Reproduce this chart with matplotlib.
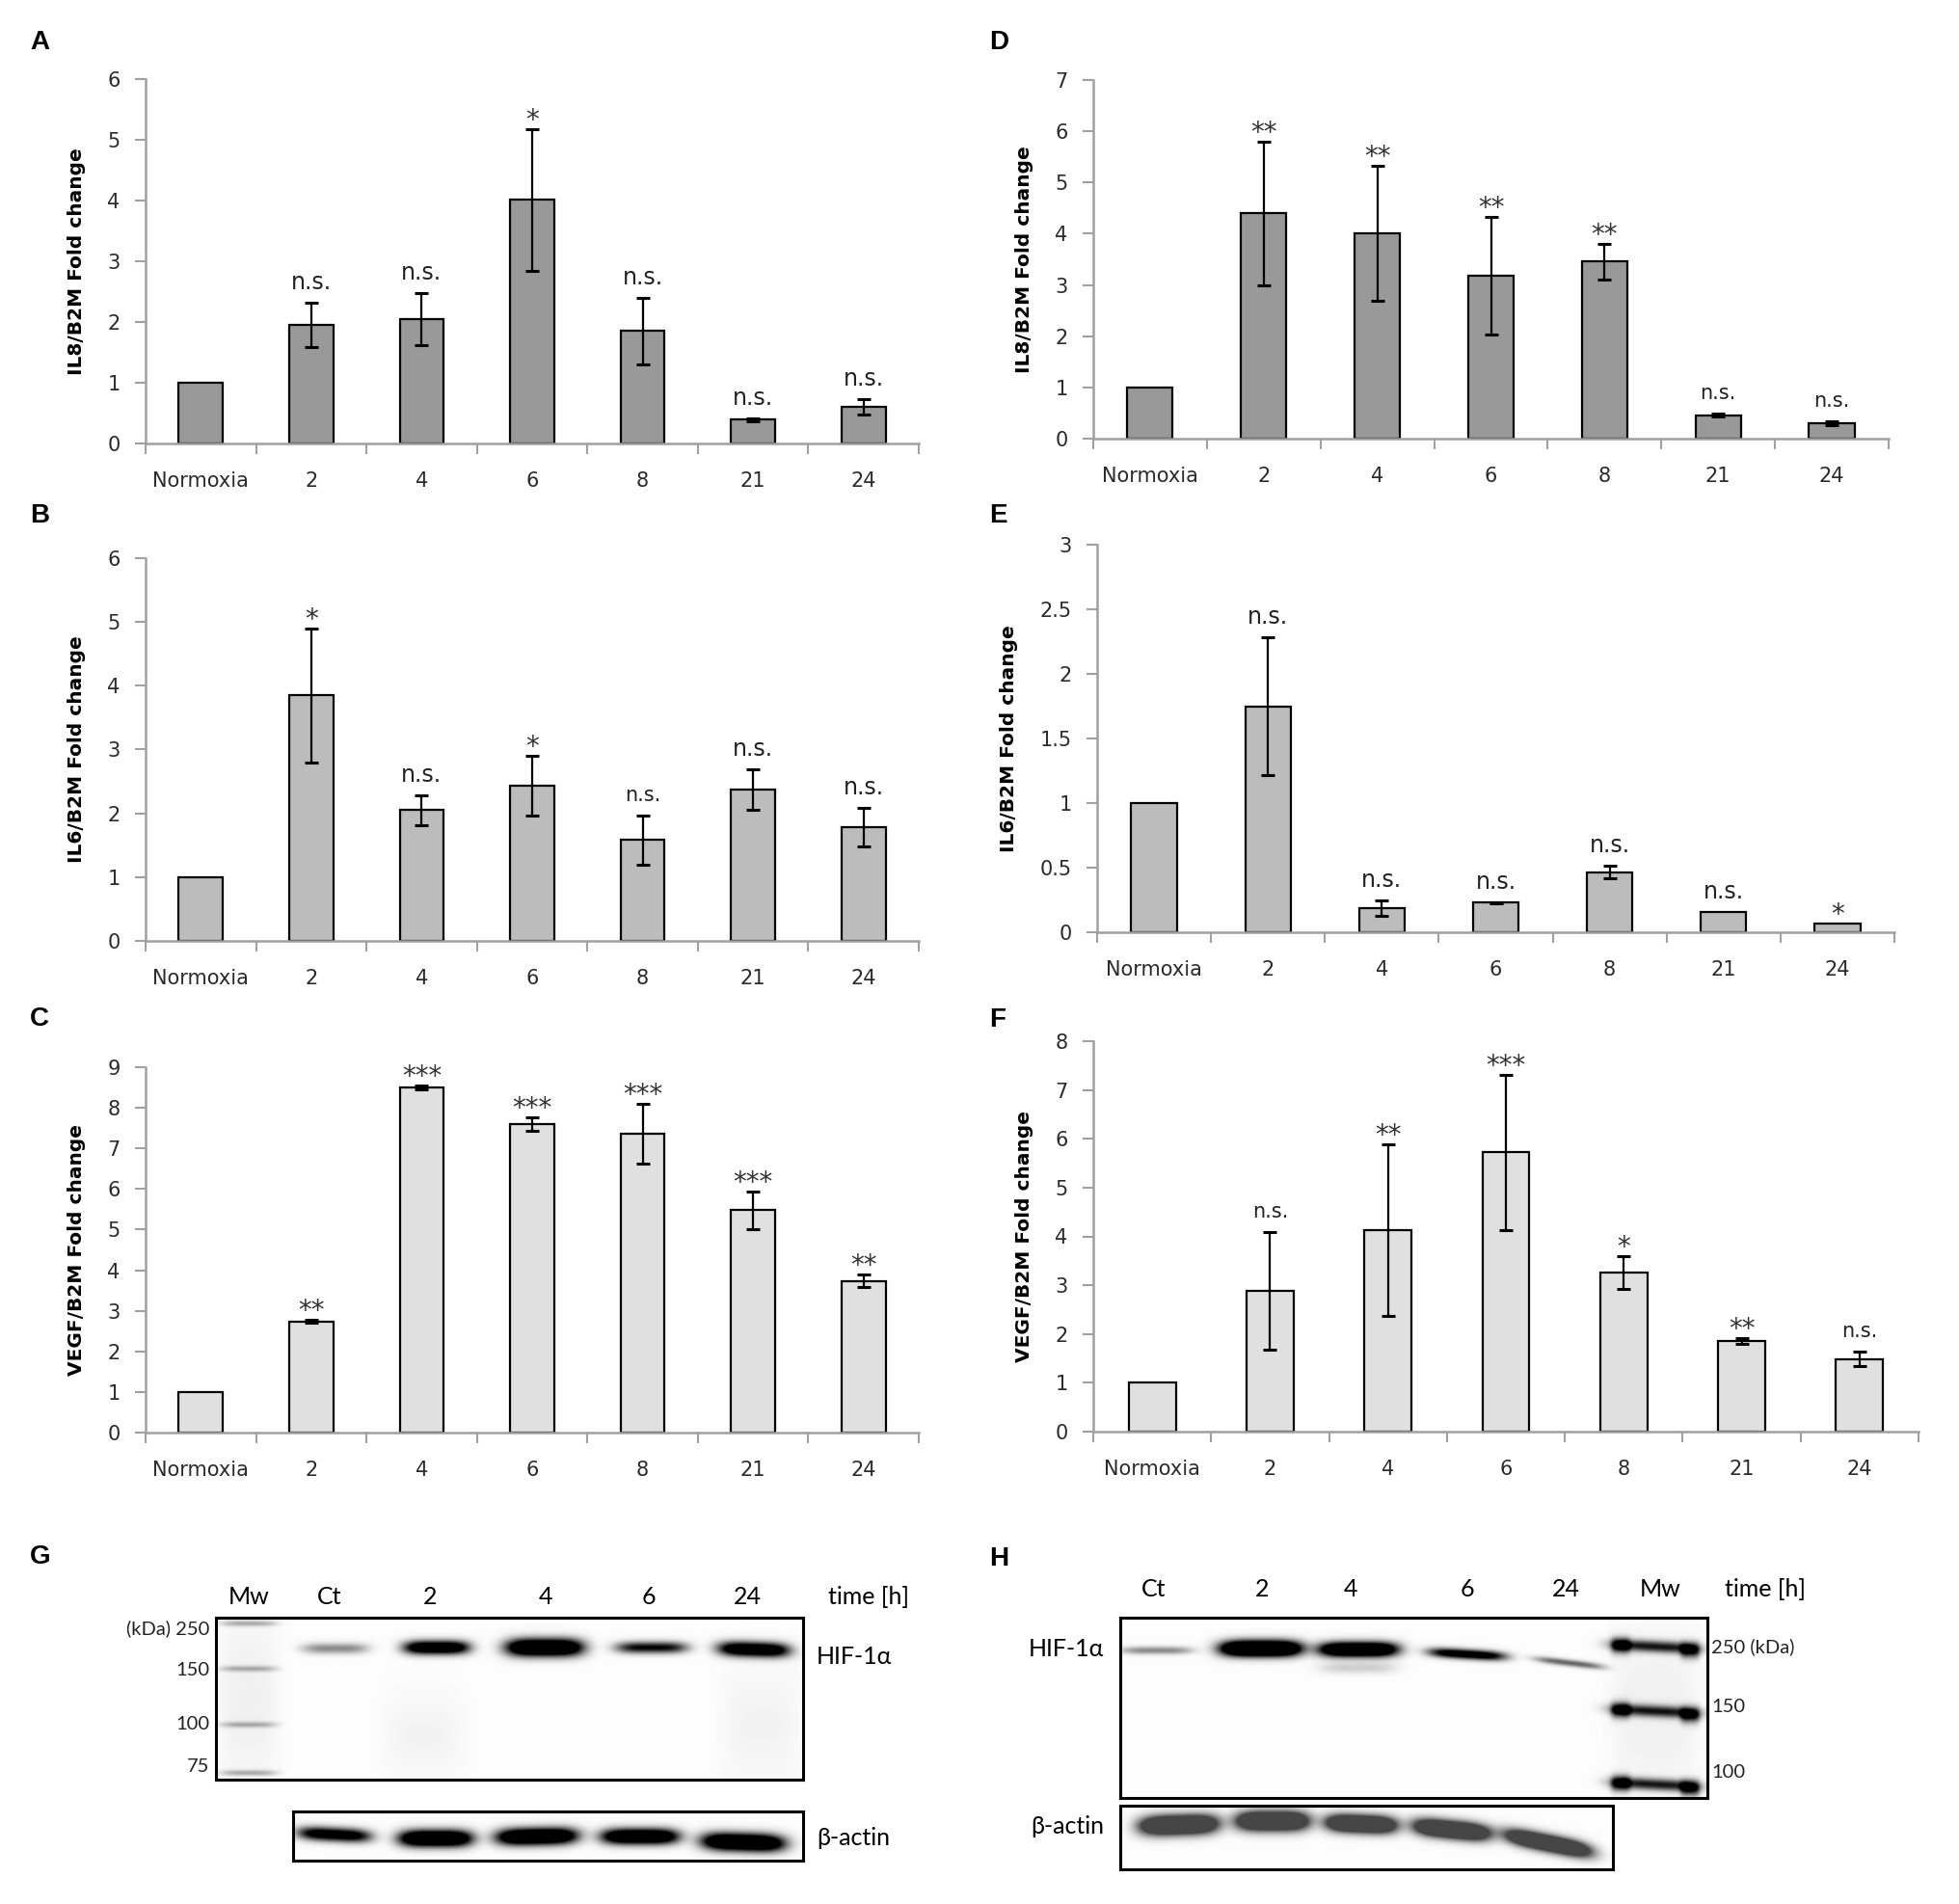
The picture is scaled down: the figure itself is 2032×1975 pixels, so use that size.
import numpy as np
import matplotlib
matplotlib.use('Agg')
import matplotlib.pyplot as plt

W, H = 2033, 1975

# ---------------- data ----------------
categories = ['Normoxia', '2', '4', '6', '8', '21', '24']

A_values = [1.0, 1.95, 2.05, 4.01, 1.85, 0.39, 0.60]
A_errors = [0, 0.36, 0.43, 1.17, 0.55, 0.03, 0.13]
A_labels = ['', 'n.s.', 'n.s.', '*', 'n.s.', 'n.s.', 'n.s.']

B_values = [1.0, 3.85, 2.05, 2.43, 1.58, 2.37, 1.78]
B_errors = [0, 1.05, 0.23, 0.47, 0.39, 0.32, 0.30]
B_labels = ['', '*', 'n.s.', '*', 'n.s.', 'n.s.', 'n.s.']

C_values = [1.0, 2.74, 8.50, 7.60, 7.36, 5.48, 3.74]
C_errors = [0, 0.04, 0.04, 0.16, 0.74, 0.46, 0.16]
C_labels = ['', '**', '***', '***', '***', '***', '**']

D_values = [1.0, 4.40, 4.01, 3.18, 3.46, 0.46, 0.30]
D_errors = [0, 1.40, 1.32, 1.14, 0.35, 0.03, 0.03]
D_labels = ['', '**', '**', '**', '**', 'n.s.', 'n.s.']

E_values = [1.0, 1.75, 0.185, 0.23, 0.465, 0.155, 0.065]
E_errors = [0, 0.53, 0.06, 0.005, 0.05, 0, 0]
E_labels = ['', 'n.s.', 'n.s.', 'n.s.', 'n.s.', 'n.s.', '*']

F_values = [1.0, 2.88, 4.13, 5.72, 3.26, 1.86, 1.49]
F_errors = [0, 1.20, 1.76, 1.59, 0.33, 0.06, 0.14]
F_labels = ['', 'n.s.', '**', '***', '*', '**', 'n.s.']

A_yticks = [0, 1, 2, 3, 4, 5, 6]
B_yticks = [0, 1, 2, 3, 4, 5, 6]
C_yticks = [0, 1, 2, 3, 4, 5, 6, 7, 8, 9]
D_yticks = [0, 1, 2, 3, 4, 5, 6, 7]
E_yticks = [0, 0.5, 1, 1.5, 2, 2.5, 3]
F_yticks = [0, 1, 2, 3, 4, 5, 6, 7, 8]

IL8_label = 'IL8/B2M Fold change'
IL6_label = 'IL6/B2M Fold change'
VEGF_label = 'VEGF/B2M Fold change'

# western blots (band intensities, relative)
G_lanes = ['Mw', 'Ct', '2', '4', '6', '24']
G_hif = [0.45, 1.5, 1.8, 1.0, 1.5]
G_actin = [1.3, 1.8, 1.8, 1.7, 1.8]
G_markers = ['(kDa) 250', '150', '100', '75']

H_lanes = ['Ct', '2', '4', '6', '24', 'Mw']
H_hif = [0.45, 2.2, 1.9, 1.3, 0.6]
H_actin = [1.6, 1.6, 1.6, 1.6, 1.6]
H_markers = ['250 (kDa)', '150', '100']

# ---------------- style / layout ----------------
DARK, MID, LIGHT = '#999999', '#bcbcbc', '#e0e0e0'
SPINE = '#a0a0a0'
TICKTXT = '#2b2b2b'

fig = plt.figure(figsize=(W / 100, H / 100), dpi=100)
ov = fig.add_axes([0, 0, 1, 1])
ov.set_xlim(0, W)
ov.set_ylim(H, 0)
ov.axis('off')


def px_rect(x0, x1, y0, y1):
    return [x0 / W, 1 - y1 / H, (x1 - x0) / W, (y1 - y0) / H]


def bar_panel(box, values, errors, labels, yticks, ylabel, color, ylab_x,
              ns_size=17):
    x0, x1, y0, y1 = box
    ax = fig.add_axes(px_rect(x0, x1, y0, y1))
    x = np.arange(len(categories))
    ax.bar(x, values, width=0.4, color=color, edgecolor='black',
           linewidth=1.6, zorder=2)
    vals = np.array(values, dtype=float)
    errs = np.array(errors, dtype=float)
    m = errs > 0
    ax.errorbar(x[m], vals[m], yerr=errs[m], fmt='none', ecolor='black',
                elinewidth=1.6, capsize=5, capthick=2.2, zorder=3)
    for i, lab in enumerate(labels):
        if not lab:
            continue
        top = vals[i] + errs[i]
        if lab.startswith('*'):
            ax.annotate(lab, xy=(i, top), xytext=(0, 9),
                        textcoords='offset pixels', ha='center', va='center',
                        fontsize=20, color='#333333', family='DejaVu Sans')
        else:
            ax.annotate(lab, xy=(i, top), xytext=(0, 21),
                        textcoords='offset pixels', ha='center', va='center',
                        fontsize=ns_size[i] if isinstance(ns_size, list) else ns_size,
                        color='#222222', family='DejaVu Sans')
    ax.set_xlim(-0.5, len(categories) - 0.5)
    ax.set_ylim(0, yticks[-1])
    ax.set_yticks(yticks)
    ax.set_yticklabels([f'{v:g}' for v in yticks])
    ax.set_xticks(np.arange(len(categories) + 1) - 0.5)
    ax.set_xticklabels([])
    ax.set_xticks(x, minor=True)
    ax.set_xticklabels(categories, minor=True)
    ax.tick_params(axis='x', which='major', length=8, width=1.5,
                   color=SPINE, direction='out')
    ax.tick_params(axis='x', which='minor', length=0, pad=21,
                   labelsize=15, labelcolor=TICKTXT)
    ax.tick_params(axis='y', length=8, width=1.5, color=SPINE,
                   direction='out', pad=11, labelsize=15, labelcolor=TICKTXT)
    for s in ('top', 'right'):
        ax.spines[s].set_visible(False)
    for s in ('left', 'bottom'):
        ax.spines[s].set_color(SPINE)
        ax.spines[s].set_linewidth(1.8)
    ax.set_ylabel(ylabel, fontsize=14.5, fontweight='bold', color='black',
                  family='DejaVu Sans')
    ax.yaxis.set_label_coords((ylab_x - x0) / (x1 - x0), 0.5)
    ax.patch.set_alpha(0)
    return ax


bar_panel((151, 953, 82, 460), A_values, A_errors, A_labels, A_yticks,
          IL8_label, DARK, 89)
bar_panel((151, 953, 579, 976), B_values, B_errors, B_labels, B_yticks,
          IL6_label, MID, 89, ns_size=[17, 17, 17, 17, 15, 17, 17])
bar_panel((151, 953, 1107, 1486), C_values, C_errors, C_labels, C_yticks,
          VEGF_label, LIGHT, 89)
bar_panel((1134, 1959, 83, 455), D_values, D_errors, D_labels, D_yticks,
          IL8_label, DARK, 1072, ns_size=15)
bar_panel((1138, 1965, 565, 967), E_values, E_errors, E_labels, E_yticks,
          IL6_label, MID, 1056)
bar_panel((1134, 1990, 1080, 1485), F_values, F_errors, F_labels, F_yticks,
          VEGF_label, LIGHT, 1072, ns_size=15)

# panel letters
for letter, (lx, ly) in {'A': (31, 44), 'B': (31, 535), 'C': (31, 1057),
                         'D': (1026, 44), 'E': (1026, 535), 'F': (1026, 1058),
                         'G': (31, 1615), 'H': (1026, 1617)}.items():
    ov.text(lx, ly, letter, ha='left', va='center', fontsize=20,
            fontweight='bold', family='Liberation Sans')


# ---------------- blots ----------------
def blot(box, bands, bg=0.99, cap=1.0):
    x0, x1, y0, y1 = box
    ax = fig.add_axes(px_rect(x0, x1, y0, y1))
    xs = np.arange(x0, x1) + 0.5
    ys = np.arange(y0, y1) + 0.5
    X, Y = np.meshgrid(xs, ys)
    dens = np.zeros_like(X)
    for (cx, cy, hw, hh, d, slope) in bands:
        yc = cy + slope * (X - cx)
        dens += d * np.exp(-np.abs((X - cx) / hw) ** 4) * \
            np.exp(-((Y - yc) / hh) ** 2)
    img = bg * (1 - np.clip(dens, 0, cap))
    ax.imshow(img, cmap='gray', vmin=0, vmax=1, extent=(x0, x1, y1, y0),
              interpolation='bilinear', aspect='auto')
    ax.set_xlim(x0, x1)
    ax.set_ylim(y1, y0)
    ax.set_xticks([])
    ax.set_yticks([])
    for s in ax.spines.values():
        s.set_linewidth(2.2)
        s.set_color('black')
    return ax


LBL = ['Lato', 'DejaVu Sans']

# G
G_lane_x = [258, 342, 446, 566, 673, 775]
G_hif_geom = [(348, 1710, 34, 5.5, 0.0), (453, 1709, 34, 7, 0.0),
              (565, 1709, 40, 9, 0.0), (676, 1709, 37, 6, 0.0),
              (782, 1711, 37, 7.5, 0.03)]
G_marker_y = [1684, 1731, 1789, 1839]
bands = [(gx, gy, hw, hh, d, sl) for (gx, gy, hw, hh, sl), d in zip(G_hif_geom, G_hif)]
bands += [(258, my, 29, 3, 0.3, 0.0) for my in G_marker_y]
bands += [(258, 1762, 30, 90, 0.05, 0.0), (440, 1800, 40, 40, 0.04, 0.0),
          (790, 1790, 40, 60, 0.04, 0.0)]
blot((224, 833, 1678, 1846), bands)

G_actin_geom = [(347, 1903, 38, 7, 0.05), (452, 1907, 38, 8.5, 0.0),
                (557, 1905, 42, 8.5, -0.02), (664, 1905, 40, 8, 0.0),
                (771, 1911, 43, 9, 0.03)]
bands = [(gx, gy, hw, hh, d, sl) for (gx, gy, hw, hh, sl), d in zip(G_actin_geom, G_actin)]
blot((304, 833, 1879, 1930), bands)

for lab, lx in zip(G_lanes, G_lane_x):
    ov.text(lx, 1656, lab, ha='center', va='center', fontsize=18, family=LBL)
ov.text(901, 1656, 'time [h]', ha='center', va='center', fontsize=18, family=LBL)
for lab, my in zip(G_markers, [1689, 1732, 1788, 1833]):
    ov.text(217, my, lab, ha='right', va='center', fontsize=14.5, family=LBL,
            color='#222222')
ov.text(847, 1718, 'HIF-1α', ha='left', va='center', fontsize=18, family=LBL)
ov.text(847, 1907, 'β-actin', ha='left', va='center', fontsize=18, family=LBL)

# H
H_lane_x = [1197, 1309, 1401, 1522, 1624, 1722]
H_hif_geom = [(1200, 1712, 37, 4, 0.0), (1308, 1710, 42, 8, 0.0),
              (1409, 1711, 41, 7.5, 0.0), (1522, 1716, 40, 5, 0.06),
              (1628, 1725, 36, 3.5, 0.12)]
bands = [(hx, hy, hw, hh, d, sl) for (hx, hy, hw, hh, sl), d in zip(H_hif_geom, H_hif)]
bands += [(1409, 1730, 40, 6, 0.18, 0.0)]
H_marker_y = [1708, 1775, 1851]
for my in H_marker_y:
    bands += [(1717, my, 46, 6, 0.9, 0.05),
              (1681, my - 1, 10, 8, 0.8, 0.0),
              (1753, my + 4, 10, 8, 0.8, 0.0)]
bands += [(1717, 1775, 45, 90, 0.05, 0.0)]
blot((1162, 1771, 1678, 1865), bands)

H_actin_geom = [(1223, 1893, 41, 10, -0.03), (1320, 1889, 38, 10, 0.0),
                (1412, 1892, 37, 9, 0.04), (1506, 1898, 40, 9, 0.10),
                (1606, 1912, 45, 8.5, 0.2)]
bands = [(hx, hy, hw, hh, d, sl) for (hx, hy, hw, hh, sl), d in zip(H_actin_geom, H_actin)]
blot((1162, 1673, 1873, 1939), bands, cap=0.72)

for lab, lx in zip(H_lanes, H_lane_x):
    ov.text(lx, 1649, lab, ha='center', va='center', fontsize=18, family=LBL)
ov.text(1831, 1649, 'time [h]', ha='center', va='center', fontsize=18, family=LBL)
for lab, my in zip(H_markers, [1708, 1770, 1838]):
    ov.text(1775, my, lab, ha='left', va='center', fontsize=14.5, family=LBL,
            color='#222222')
ov.text(1145, 1710, 'HIF-1α', ha='right', va='center', fontsize=18, family=LBL)
ov.text(1145, 1895, 'β-actin', ha='right', va='center', fontsize=18, family=LBL)

fig.savefig('out.png', dpi=100)
